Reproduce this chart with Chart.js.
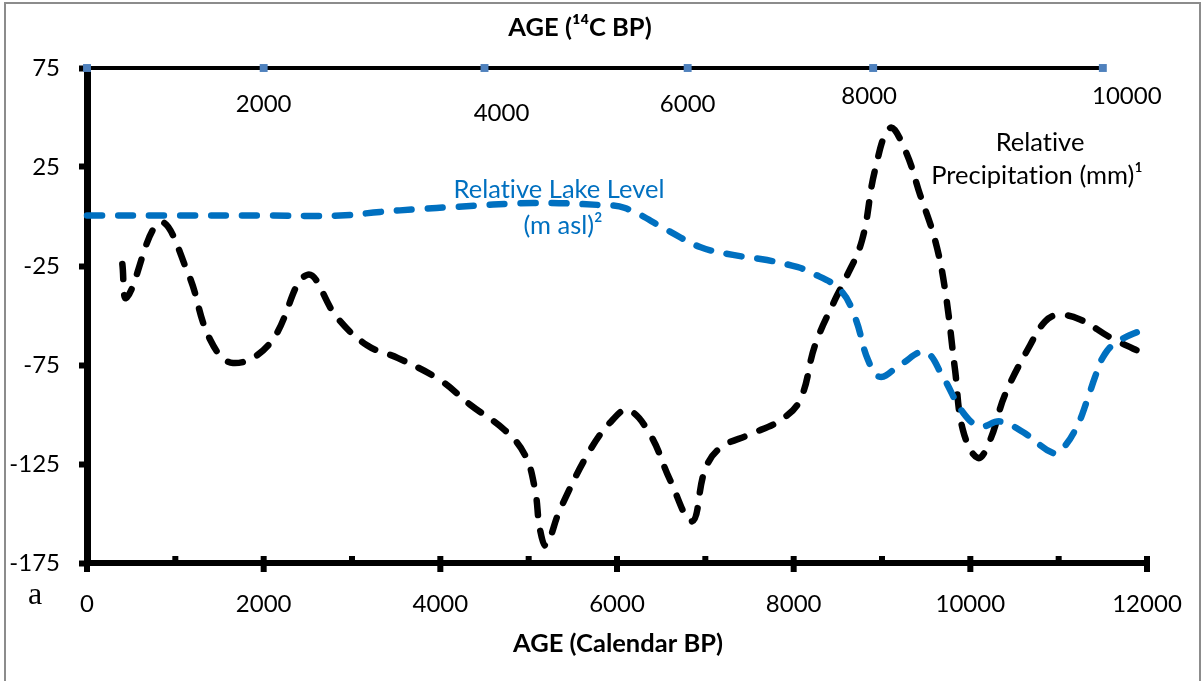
<!DOCTYPE html>
<html><head><meta charset="utf-8">
<script src="https://cdn.jsdelivr.net/npm/chart.js@4.4.1/dist/chart.umd.min.js"></script>
<style>html,body{margin:0;padding:0;background:#fff}#wrap{width:1203px;height:681px;position:relative}</style>
</head><body><div id="wrap"><canvas id="c" width="1203" height="681"></canvas></div>
<script>
// Relative precipitation (mm) vs calendar age BP
const precipAge   = [400, 450, 826, 1143, 1392, 1653, 2072, 2490, 2830, 3170, 3521, 3996, 4336, 4732, 4959, 5072, 5128, 5196, 5355, 5695, 5944, 6125, 6374, 6600, 6849, 6996, 7166, 7506, 7846, 8072, 8242, 8468, 8581, 8774, 8921, 9091, 9261, 9431, 9601, 9714, 9827, 9917, 10087, 10223, 10393, 10676, 10846, 10993, 11242, 11581, 12000];
const precipValue = [-24, -41, -3, -28.5, -62, -74, -64, -29.5, -51, -65, -71.5, -82.6, -95, -108, -120.5, -138, -158, -166, -148, -118, -103, -97.7, -110, -133, -154, -128, -117, -110, -103, -92.7, -65, -42, -32, -12, 23.5, 44.7, 33.6, 11, -12, -37, -77.5, -108, -122, -113, -90, -65, -53, -49.7, -52, -61, -70];
// Relative lake level (m asl) vs calendar age BP
const lakeAge   = [0, 1000, 2000, 2864, 3317, 3770, 4144, 5049, 5808, 6091, 6566, 6940, 7313, 7698, 8038, 8185, 8525, 8694, 8842, 8978, 9204, 9487, 9690, 9917, 10110, 10336, 10600, 10936, 11049, 11208, 11321, 11412, 11502, 11638, 11955];
const lakeValue = [0.5, 0.5, 0.5, 0.5, 2.3, 3.8, 4.8, 6.8, 5.8, 4.3, -6.8, -15.4, -19.4, -22, -25.5, -28, -37, -50.8, -72.5, -81, -75, -68.5, -81, -99, -106, -103.5, -109, -119.5, -117, -106, -93, -81, -71, -64, -57];
// 14C age axis drawn as a series along the top (calendar positions of 14C ages)
const c14MarkerAge   = [0, 2000, 4500, 6800, 8900, 11500];
const c14MarkerValue = [75, 75, 75, 75, 75, 75];
const c14Labels      = ['', '2000', '4000', '6000', '8000', '10000'];
// axis ticks
const xTicks = [0, 2000, 4000, 6000, 8000, 10000, 12000];
const xMinorTicks = [1000, 3000, 5000, 7000, 9000, 11000];
const yTicks = [75, 25, -25, -75, -125, -175];

const FONT = 'Lato, "Open Sans", sans-serif';

const toXY = (xs, ys) => xs.map((x, i) => ({x, y: ys[i]}));

const decor = {
  id: 'decor',
  beforeDraw(chart) {
    const ctx = chart.ctx;
    ctx.save();
    ctx.fillStyle = '#fff';
    ctx.fillRect(0, 0, chart.width, chart.height);
    ctx.restore();
  },
  afterDraw(chart) {
    const ctx = chart.ctx;
    const xs = chart.scales.x, ys = chart.scales.y;
    ctx.save();
    if ('letterSpacing' in ctx) ctx.letterSpacing = '0.01px';
    // frame
    ctx.strokeStyle = '#8c8c8c';
    ctx.lineWidth = 2;
    ctx.beginPath();
    ctx.moveTo(5, 700); ctx.lineTo(5, 3); ctx.lineTo(1200, 3); ctx.lineTo(1200, 700);
    ctx.stroke();
    // bottom axis tick marks
    const yb = ys.getPixelForValue(-175);
    ctx.fillStyle = '#000';
    xTicks.forEach(v => { const px = xs.getPixelForValue(v); ctx.fillRect(px - 3, yb - 7, 6, 16); });
    xMinorTicks.forEach(v => { const px = xs.getPixelForValue(v); ctx.fillRect(px - 3, yb - 7, 6, 7); });
    // top 14C labels (text boxes placed near the markers)
    ctx.fillStyle = '#000';
    ctx.textAlign = 'center';
    ctx.textBaseline = 'middle';
    ctx.font = '24px ' + FONT;
    const yt = ys.getPixelForValue(75);
    const dx = [0, 0, 17, 0, -4, 24];
    const dy = [0, 36, 45, 36, 28, 28];
    c14Labels.forEach((t, i) => {
      if (!t) return;
      ctx.fillText(t, xs.getPixelForValue(c14MarkerAge[i]) + dx[i], yt + dy[i]);
    });
    // titles
    ctx.font = 'bold 25.5px ' + FONT;
    ctx.fillText('AGE (\u00B9\u2074C BP)', 580, 28);
    ctx.fillText('AGE (Calendar BP)', 618, 644);
    // series annotations
    ctx.font = '25.5px ' + FONT;
    ctx.fillStyle = '#0070C0';
    ctx.fillText('Relative Lake Level', 559, 190);
    ctx.fillText('(m asl)\u00B2', 563, 226);
    ctx.fillStyle = '#000';
    ctx.fillText('Relative', 1040, 143);
    ctx.fillText('Precipitation (mm)\u00B9', 1037, 176);
    // panel letter
    ctx.font = '32px "Liberation Serif", "DejaVu Serif", serif';
    ctx.fillText('a', 35, 596);
    ctx.restore();
  }
};

new Chart(document.getElementById('c'), {
  type: 'scatter',
  data: {
    datasets: [
      {
        label: 'Relative Precipitation (mm)',
        data: toXY(precipAge, precipValue),
        showLine: true, borderColor: '#000', borderWidth: 6.5,
        borderDash: [15, 16], borderCapStyle: 'round', borderJoinStyle: 'round',
        tension: 0.4, pointRadius: 0, clip: false, order: 2
      },
      {
        label: 'Relative Lake Level (m asl)',
        data: toXY(lakeAge, lakeValue),
        showLine: true, borderColor: '#0070C0', borderWidth: 6.5,
        borderDash: [15, 16], borderCapStyle: 'round', borderJoinStyle: 'round',
        tension: 0.4, pointRadius: 0, clip: false, order: 1
      },
      {
        label: 'AGE (14C BP)',
        data: toXY(c14MarkerAge, c14MarkerValue),
        showLine: true, borderColor: '#000', borderWidth: 4, tension: 0,
        pointStyle: 'rect', pointRadius: 5.6, pointBorderWidth: 0,
        pointBackgroundColor: '#4F81BD', clip: false, order: 0
      }
    ]
  },
  options: {
    responsive: false,
    animation: false,
    devicePixelRatio: 1,
    layout: { padding: { top: 68, right: 56, left: 0, bottom: 0 } },
    plugins: { legend: { display: false }, tooltip: { enabled: false } },
    scales: {
      x: {
        type: 'linear', min: 0, max: 12000,
        afterBuildTicks: s => { s.ticks = xTicks.map(v => ({ value: v })); },
        afterFit: s => { s.height = 118; s.paddingLeft = 0; s.paddingRight = 0; },
        grid: { display: false },
        border: { display: true, color: '#000', width: 6 },
        ticks: { padding: 19, color: '#000', font: { family: FONT, size: 24 }, maxRotation: 0,
                 callback: v => String(v) }
      },
      y: {
        type: 'linear', min: -175, max: 75,
        afterBuildTicks: s => { s.ticks = yTicks.map(v => ({ value: v })); },
        afterFit: s => { s.width = 87; s.paddingTop = 0; s.paddingBottom = 0; },
        grid: { display: true, drawOnChartArea: false, drawTicks: true, tickLength: 8, tickWidth: 6, color: '#000' },
        border: { display: true, color: '#000', width: 7 },
        ticks: { padding: 19, color: '#000', font: { family: FONT, size: 24 }, callback: v => String(v) }
      }
    }
  },
  plugins: [decor]
});
</script>
</body></html>
